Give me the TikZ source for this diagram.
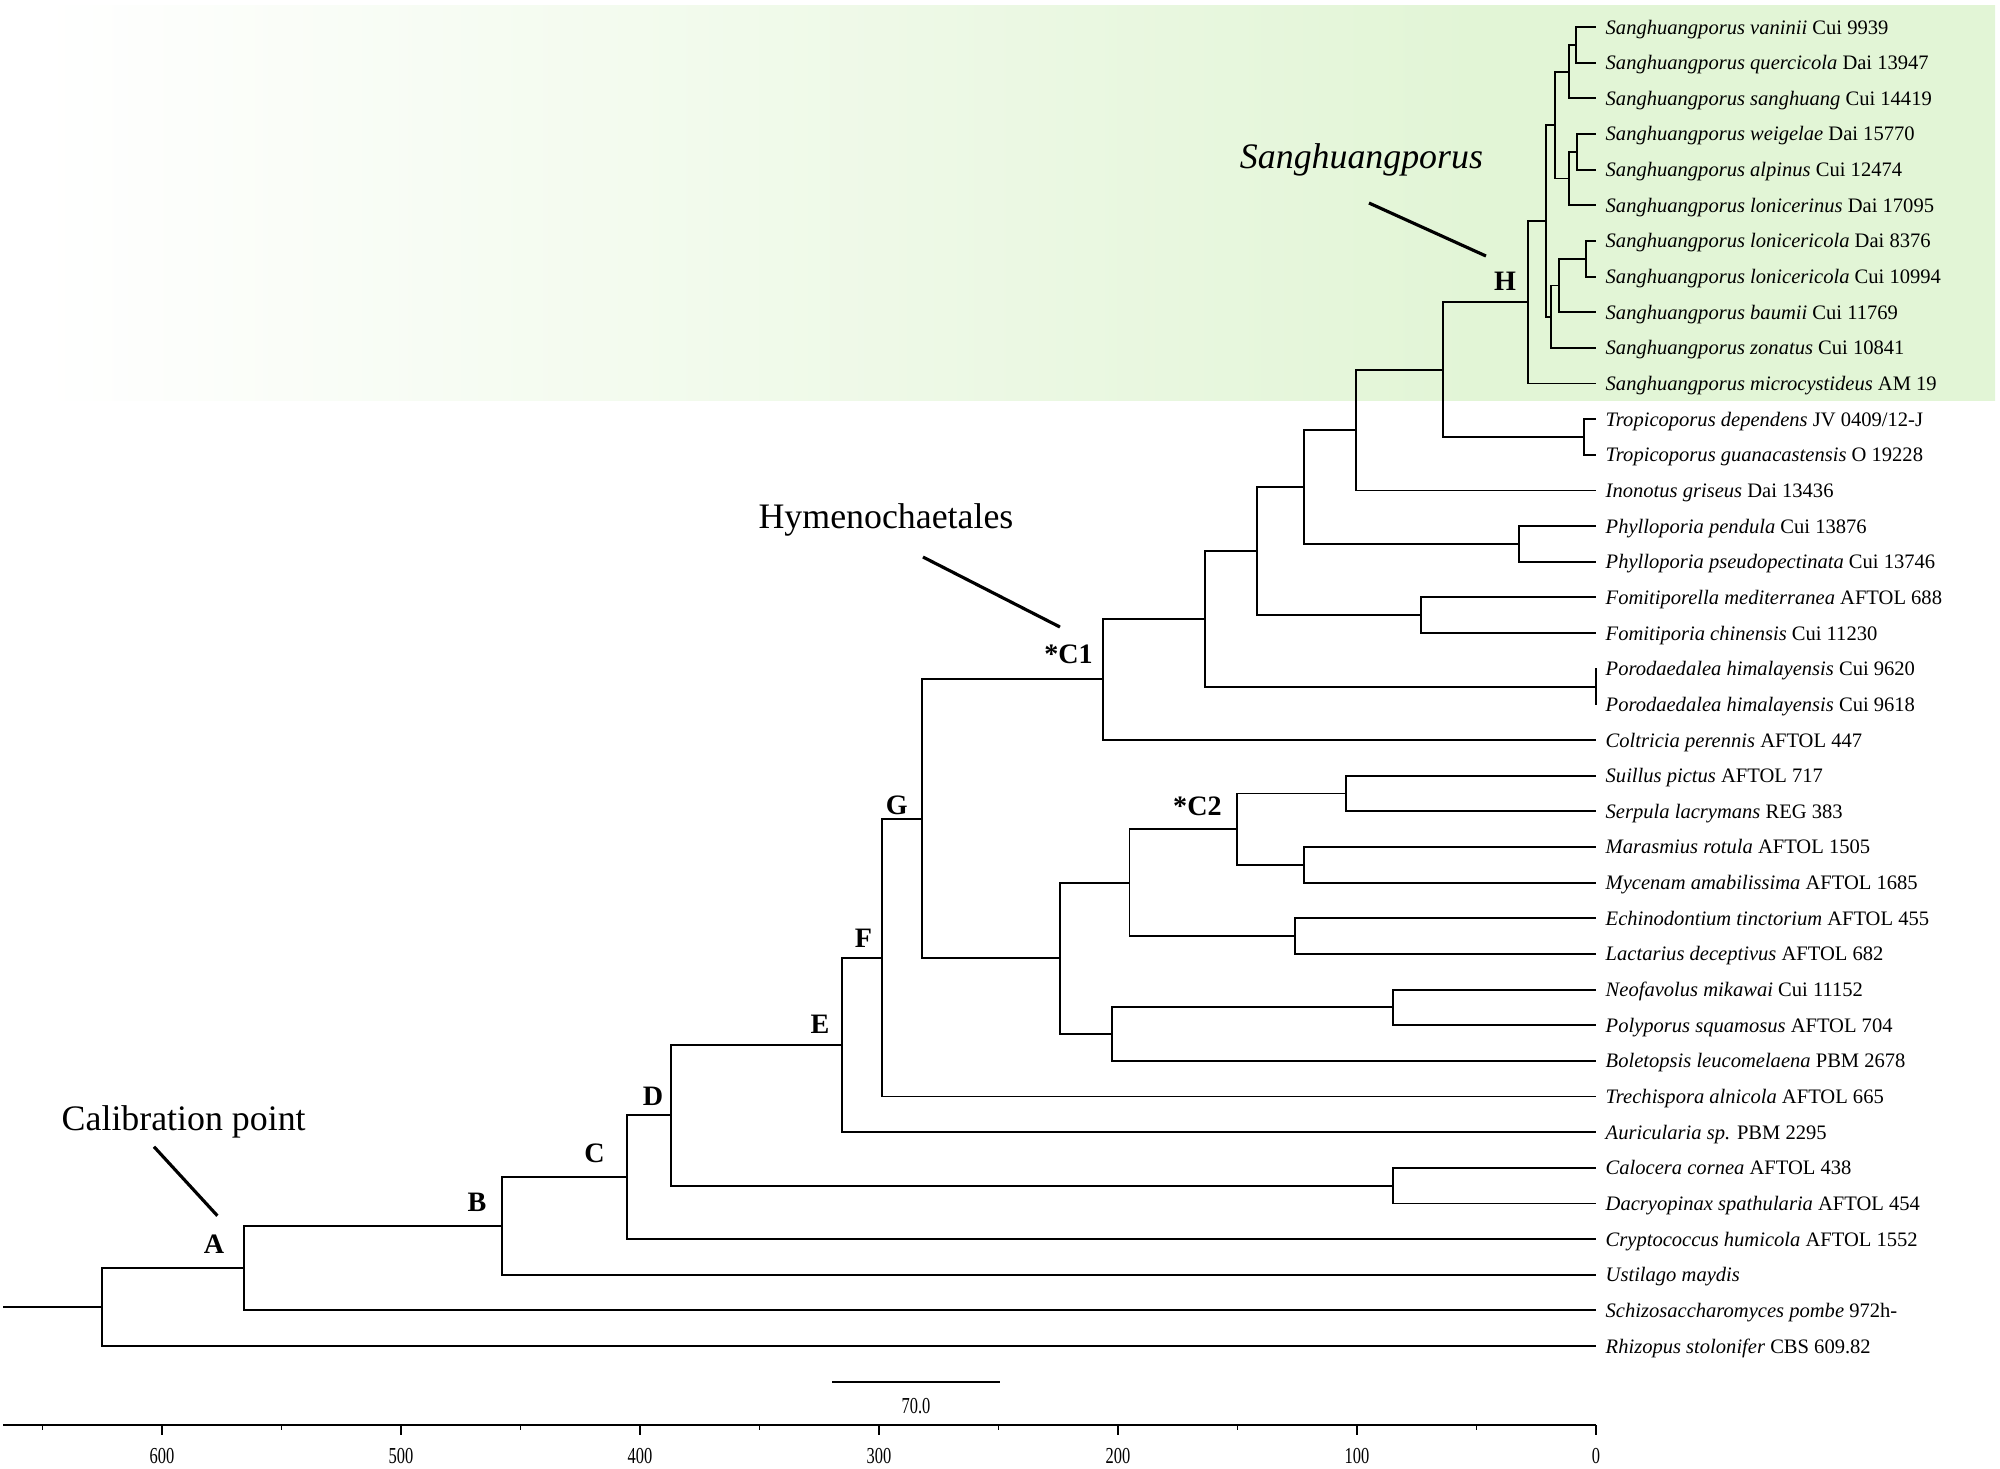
\documentclass[tikz,border=0pt]{standalone}
\usepackage{fontspec}
\setmainfont{Liberation Serif}
\usepackage{graphicx}
\usetikzlibrary{calc}

\definecolor{bandgreen}{RGB}{226,245,214}
\pgfdeclarehorizontalshading{bandfade}{100bp}{color(0bp)=(white); color(26bp)=(white); color(62bp)=(bandgreen); color(100bp)=(bandgreen)}

\tikzset{
  branch/.style={line width=0.55pt},
  taxon/.style={anchor=base west, inner sep=0pt, xshift=0.9mm, yshift=-0.7mm, font=\fontsize{5.85pt}{7pt}\selectfont},
  cladelab/.style={inner sep=0pt, font=\fontsize{8pt}{9pt}\selectfont\bfseries},
  callout/.style={anchor=base, inner sep=0pt, font=\fontsize{10.2pt}{12pt}\selectfont},
  pointer/.style={line width=0.9pt},
  scalelab/.style={inner sep=0pt, font=\fontsize{6.5pt}{7pt}\selectfont}
}

\begin{document}
\begin{tikzpicture}[x=-0.239mm, y=-3.565mm]
\useasboundingbox (-159.6mm,2.7mm) rectangle (40.4mm,-144.1mm);

% green band behind Sanghuangporus
\shade[shading=bandfade] (-159.6mm,2.2mm) rectangle (39.9mm,-37.3mm);

% tips (age 0, one row each)
\path (0,0) coordinate (vani) node[taxon] (vani-t) {\textit{Sanghuangporus vaninii} Cui 9939};
\path (0,1) coordinate (quer) node[taxon] (quer-t) {\textit{Sanghuangporus quercicola} Dai 13947};
\path (0,2) coordinate (sang) node[taxon] (sang-t) {\textit{Sanghuangporus sanghuang} Cui 14419};
\path (0,3) coordinate (weig) node[taxon] (weig-t) {\textit{Sanghuangporus weigelae} Dai 15770};
\path (0,4) coordinate (alpi) node[taxon] (alpi-t) {\textit{Sanghuangporus alpinus} Cui 12474};
\path (0,5) coordinate (lonr) node[taxon] (lonr-t) {\textit{Sanghuangporus lonicerinus} Dai 17095};
\path (0,6) coordinate (lond) node[taxon] (lond-t) {\textit{Sanghuangporus lonicericola} Dai 8376};
\path (0,7) coordinate (lonc) node[taxon] (lonc-t) {\textit{Sanghuangporus lonicericola} Cui 10994};
\path (0,8) coordinate (baum) node[taxon] (baum-t) {\textit{Sanghuangporus baumii} Cui 11769};
\path (0,9) coordinate (zona) node[taxon] (zona-t) {\textit{Sanghuangporus zonatus} Cui 10841};
\path (0,10) coordinate (micr) node[taxon] (micr-t) {\textit{Sanghuangporus microcystideus} AM 19};
\path (0,11) coordinate (trod) node[taxon] (trod-t) {\textit{Tropicoporus dependens} JV 0409/12-J};
\path (0,12) coordinate (trog) node[taxon] (trog-t) {\textit{Tropicoporus guanacastensis} O 19228};
\path (0,13) coordinate (inon) node[taxon] (inon-t) {\textit{Inonotus griseus} Dai 13436};
\path (0,14) coordinate (phpe) node[taxon] (phpe-t) {\textit{Phylloporia pendula} Cui 13876};
\path (0,15) coordinate (phps) node[taxon] (phps-t) {\textit{Phylloporia pseudopectinata} Cui 13746};
\path (0,16) coordinate (fome) node[taxon] (fome-t) {\textit{Fomitiporella mediterranea} AFTOL 688};
\path (0,17) coordinate (foch) node[taxon] (foch-t) {\textit{Fomitiporia chinensis} Cui 11230};
\path (0,18) coordinate (por1) node[taxon] (por1-t) {\textit{Porodaedalea himalayensis} Cui 9620};
\path (0,19) coordinate (por2) node[taxon] (por2-t) {\textit{Porodaedalea himalayensis} Cui 9618};
\path (0,20) coordinate (colt) node[taxon] (colt-t) {\textit{Coltricia perennis} AFTOL 447};
\path (0,21) coordinate (suil) node[taxon] (suil-t) {\textit{Suillus pictus} AFTOL 717};
\path (0,22) coordinate (serp) node[taxon] (serp-t) {\textit{Serpula lacrymans} REG 383};
\path (0,23) coordinate (mara) node[taxon] (mara-t) {\textit{Marasmius rotula} AFTOL 1505};
\path (0,24) coordinate (myce) node[taxon] (myce-t) {\textit{Mycenam amabilissima} AFTOL 1685};
\path (0,25) coordinate (echi) node[taxon] (echi-t) {\textit{Echinodontium tinctorium} AFTOL 455};
\path (0,26) coordinate (lact) node[taxon] (lact-t) {\textit{Lactarius deceptivus} AFTOL 682};
\path (0,27) coordinate (neof) node[taxon] (neof-t) {\textit{Neofavolus mikawai} Cui 11152};
\path (0,28) coordinate (poly) node[taxon] (poly-t) {\textit{Polyporus squamosus} AFTOL 704};
\path (0,29) coordinate (bole) node[taxon] (bole-t) {\textit{Boletopsis leucomelaena} PBM 2678};
\path (0,30) coordinate (trec) node[taxon] (trec-t) {\textit{Trechispora alnicola} AFTOL 665};
\path (0,31) coordinate (auri) node[taxon] (auri-t) {\textit{Auricularia sp.} PBM 2295};
\path (0,32) coordinate (calo) node[taxon] (calo-t) {\textit{Calocera cornea} AFTOL 438};
\path (0,33) coordinate (dacr) node[taxon] (dacr-t) {\textit{Dacryopinax spathularia} AFTOL 454};
\path (0,34) coordinate (cryp) node[taxon] (cryp-t) {\textit{Cryptococcus humicola} AFTOL 1552};
\path (0,35) coordinate (usti) node[taxon] (usti-t) {\textit{Ustilago maydis}};
\path (0,36) coordinate (schi) node[taxon] (schi-t) {\textit{Schizosaccharomyces pombe} 972h-};
\path (0,37) coordinate (rhiz) node[taxon] (rhiz-t) {\textit{Rhizopus stolonifer} CBS 609.82};

% internal nodes (age in Ma, row)
\coordinate (s1) at (8.4,0.5);
\coordinate (s2) at (11.2,1.25);
\coordinate (s3) at (7.8,3.5);
\coordinate (s4) at (11.3,4.25);
\coordinate (s5) at (17.2,2.75);
\coordinate (s6) at (4.2,6.5);
\coordinate (s7) at (15.4,7.25);
\coordinate (s8) at (18.8,8.125);
\coordinate (s9) at (21.1,5.4375);
\coordinate (H) at (28.3,7.71875);
\coordinate (tr) at (5.2,11.5);
\coordinate (i1) at (64.1,9.609375);
\coordinate (i2) at (100.5,11.3047);
\coordinate (ph) at (32.4,14.5);
\coordinate (i3) at (122.1,12.9023);
\coordinate (fo) at (73.2,16.5);
\coordinate (i4) at (141.8,14.7012);
\coordinate (po) at (0.1,18.5);
\coordinate (i5) at (163.7,16.6006);
\coordinate (C1) at (206.4,18.3003);
\coordinate (a1) at (104.5,21.5);
\coordinate (a2) at (122.1,23.5);
\coordinate (C2) at (150.1,22.5);
\coordinate (a3) at (125.8,25.5);
\coordinate (a4) at (195.2,24);
\coordinate (a5) at (84.9,27.5);
\coordinate (a6) at (202.5,28.25);
\coordinate (a7) at (224.1,26.125);
\coordinate (G) at (282.2,22.2126);
\coordinate (F) at (298.6,26.1063);
\coordinate (E) at (315.5,28.5532);
\coordinate (da) at (85,32.5);
\coordinate (D) at (387.0,30.5266);
\coordinate (C) at (405.3,32.2633);
\coordinate (B) at (457.7,33.6316);
\coordinate (A) at (565.8,34.8158);
\coordinate (R) at (625.2,35.9079);
\coordinate (stem) at (666.5,35.9079);

% branches
\draw[branch] (vani) -| (s1) |- (quer);
\draw[branch] (s1) -| (s2) |- (sang);
\draw[branch] (weig) -| (s3) |- (alpi);
\draw[branch] (s3) -| (s4) |- (lonr);
\draw[branch] (s2) -| (s5) |- (s4);
\draw[branch] (lond) -| (s6) |- (lonc);
\draw[branch] (s6) -| (s7) |- (baum);
\draw[branch] (s7) -| (s8) |- (zona);
\draw[branch] (s5) -| (s9) |- (s8);
\draw[branch] (s9) -| (H) |- (micr);
\draw[branch] (trod) -| (tr) |- (trog);
\draw[branch] (H) -| (i1) |- (tr);
\draw[branch] (i1) -| (i2) |- (inon);
\draw[branch] (phpe) -| (ph) |- (phps);
\draw[branch] (i2) -| (i3) |- (ph);
\draw[branch] (fome) -| (fo) |- (foch);
\draw[branch] (i3) -| (i4) |- (fo);
\draw[branch] (por1) -| (po) |- (por2);
\draw[branch] (i4) -| (i5) |- (po);
\draw[branch] (i5) -| (C1) |- (colt);
\draw[branch] (suil) -| (a1) |- (serp);
\draw[branch] (mara) -| (a2) |- (myce);
\draw[branch] (a1) -| (C2) |- (a2);
\draw[branch] (echi) -| (a3) |- (lact);
\draw[branch] (C2) -| (a4) |- (a3);
\draw[branch] (neof) -| (a5) |- (poly);
\draw[branch] (a5) -| (a6) |- (bole);
\draw[branch] (a4) -| (a7) |- (a6);
\draw[branch] (C1) -| (G) |- (a7);
\draw[branch] (G) -| (F) |- (trec);
\draw[branch] (F) -| (E) |- (auri);
\draw[branch] (calo) -| (da) |- (dacr);
\draw[branch] (E) -| (D) |- (da);
\draw[branch] (D) -| (C) |- (cryp);
\draw[branch] (C) -| (B) |- (usti);
\draw[branch] (B) -| (A) |- (schi);
\draw[branch] (A) -| (R) |- (rhiz);
\draw[branch] (stem) -- (R);

% node letters
\node[cladelab] (A-l) at ($(A)+(-2.97mm,2.42mm)$) {A};
\node[cladelab] (B-l) at ($(B)+(-2.51mm,2.40mm)$) {B};
\node[cladelab] (C-l) at ($(C)+(-3.28mm,2.42mm)$) {C};
\node[cladelab] (D-l) at ($(D)+(-1.81mm,1.93mm)$) {D};
\node[cladelab] (E-l) at ($(E)+(-2.20mm,2.09mm)$) {E};
\node[cladelab] (F-l) at ($(F)+(-1.90mm,1.91mm)$) {F};
\node[cladelab] (G-l) at ($(G)+(-2.48mm,1.35mm)$) {G};
\node[cladelab] (C1-l) at ($(C1)+(-3.42mm,2.54mm)$) {*C1};
\node[cladelab] (C2-l) at ($(C2)+(-3.98mm,2.31mm)$) {*C2};
\node[cladelab] (H-l) at ($(H)+(-2.34mm,2.12mm)$) {H};

% callouts
\node[callout] (sg-t) at (-23.45mm,-14.1mm) {\textit{Sanghuangporus}};
\coordinate (sg-a) at (-22.7mm,-17.6mm);
\coordinate (sg-b) at (-11.0mm,-22.9mm);
\draw[pointer] (sg-a) -- (sg-b);
\node[callout] (hy-t) at (-71.0mm,-50.1mm) {Hymenochaetales};
\coordinate (hy-a) at (-67.3mm,-53.0mm);
\coordinate (hy-b) at (-53.6mm,-60.0mm);
\draw[pointer] (hy-a) -- (hy-b);
\node[callout] (cp-t) at (-141.23mm,-110.3mm) {Calibration point};
\coordinate (cp-a) at (-144.2mm,-111.97mm);
\coordinate (cp-b) at (-137.86mm,-118.87mm);
\draw[pointer] (cp-a) -- (cp-b);

% scale bar
\draw[line width=0.65pt] (319.5,38) coordinate (sb-l) -- (249.5,38) coordinate (sb-r);
\node[scalelab] (sb-t) at ($(sb-l)!.5!(sb-r)+(0pt,-2.43mm)$) {\scalebox{0.72}[1]{70.0}};

% time axis
\draw[line width=0.65pt] (666.5,39.215) coordinate (ax-l) -- (0,39.215) coordinate (ax-r);
\foreach \t in {0,100,...,600} {
  \draw[branch] (\t,39.215) -- ++(0pt,-1mm);
  \node[scalelab] (ax-\t) at ($(\t,39.215)+(0pt,-3.05mm)$) {\scalebox{0.72}[1]{\t}};
}
\foreach \t in {50,150,...,650}
  \draw[branch] (\t,39.215) -- ++(0pt,-0.5mm);
\end{tikzpicture}
\end{document}
